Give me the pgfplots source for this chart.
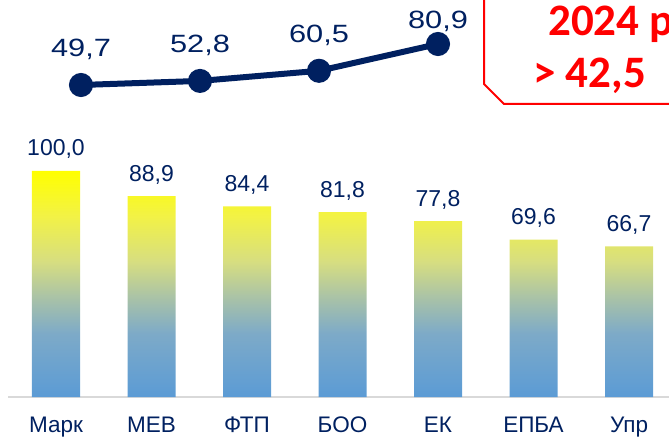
\documentclass[border=0pt]{standalone}
\usepackage{fontspec}
\setmainfont{Liberation Sans}
\newfontfamily\calib{Carlito}
\usepackage{graphicx}
\usepackage{pgfplots}
\pgfplotsset{compat=1.18}

\definecolor{navy}{HTML}{002060}
\definecolor{axgray}{HTML}{D9D9D9}
\definecolor{sA}{RGB}{91,155,213}
\definecolor{sB}{RGB}{125,170,200}
\definecolor{sC}{RGB}{172,196,165}
\definecolor{sD}{RGB}{215,222,128}
\definecolor{sE}{RGB}{242,242,70}
\definecolor{sF}{RGB}{255,255,0}
% the middle 50bp of the shading fills each bar
\pgfdeclareverticalshading{barshade}{100bp}{color(0bp)=(sA); color(25bp)=(sA);
  color(39bp)=(sB); color(47.5bp)=(sC); color(55bp)=(sD); color(65bp)=(sE);
  color(75bp)=(sF); color(100bp)=(sF)}

\pgfkeys{/pgf/number format/.cd, use comma, fixed, fixed zerofill, precision=1,
  assume math mode=true}

\pgfplotstableread{
x y
0 100.0
1 88.9
2 84.4
3 81.8
4 77.8
5 69.6
6 66.7
}\bardata

\pgfplotstableread{
x y dy
0 49.7 28
1 52.8 28
2 60.5 28
3 80.9 15
}\linedata

\begin{document}
\begin{tikzpicture}
\useasboundingbox (0bp,0bp) rectangle (669bp,441bp);
\clip (0bp,0bp) rectangle (669bp,441bp);

% bars
\begin{axis}[
  at={(8.25bp,44bp)}, anchor=south west,
  scale only axis, width=668.5bp, height=226bp,
  xmin=-0.5, xmax=6.5, ymin=0, ymax=100,
  clip=false,
  hide y axis,
  axis x line*=bottom,
  x axis line style={draw=axgray, line width=2bp},
  xtick=data, major tick length=0pt,
  xticklabels={Марк,МЕВ,ФТП,БОО,ЕК,ЕПБА,Упр},
  xticklabel style={anchor=base, yshift=-35bp, text=navy,
    font=\fontsize{22.5bp}{27bp}\selectfont},
  nodes near coords,
  nodes near coords style={anchor=base, inner sep=0pt, yshift=15bp, text=navy,
    font=\fontsize{23bp}{28bp}\selectfont},
]
\addplot[ybar, bar width=48bp, draw=none, shading=barshade] table[x=x, y=y] {\bardata};
\end{axis}

% line
\begin{axis}[
  at={(81bp,356bp)}, anchor=south west,
  scale only axis, width=357bp, height=41bp,
  xmin=0, xmax=3, ymin=49.7, ymax=80.9,
  clip=false, hide axis,
]
\addplot[navy, line width=6bp, mark=*, mark size=9bp,
  mark options={fill=navy, draw=none},
  visualization depends on={\thisrow{dy}\as\dy},
  nodes near coords={\scalebox{1.23}[1]{\pgfmathprintnumber{\pgfplotspointmeta}}},
  nodes near coords style={anchor=base, inner sep=0pt, yshift=\dy bp, text=navy,
    font=\fontsize{25bp}{30bp}\selectfont},
] table[x=x, y=y] {\linedata};
\end{axis}

% red callout
\draw[red, line width=2bp] (484bp,450bp) -- (484bp,357bp) -- (504bp,337bp) -- (680bp,337bp);
\node[anchor=base west, inner sep=0pt, text=red,
  font={\calib\bfseries\fontsize{45bp}{50bp}\selectfont}] at (548bp,405bp) {2024 р};
\node[anchor=base west, inner sep=0pt, text=red,
  font={\calib\bfseries\fontsize{45bp}{50bp}\selectfont}] at (533bp,353bp) {> 42,5};
\end{tikzpicture}
\end{document}
